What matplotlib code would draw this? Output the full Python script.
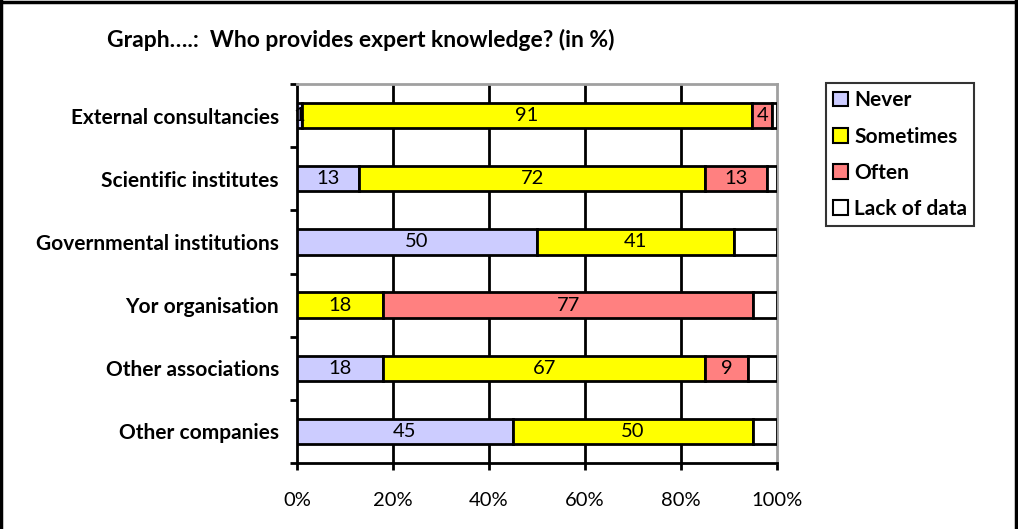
import numpy as np
import matplotlib
matplotlib.use("Agg")
import matplotlib.pyplot as plt
from matplotlib.patches import Patch
from matplotlib.lines import Line2D

plt.rcParams['font.family'] = ['Lato', 'DejaVu Sans']

categories = ["External consultancies", "Scientific institutes", "Governmental institutions",
              "Yor organisation", "Other associations", "Other companies"]
series = ["Never", "Sometimes", "Often", "Lack of data"]
never = [1, 13, 50, 0, 18, 45]
sometimes = [91, 72, 41, 18, 67, 50]
often = [4, 13, 0, 77, 9, 0]
lack = [1, 2, 9, 5, 6, 5]
colors = ["#CCCCFF", "#FFFF00", "#FF8080", "#FFFFFF"]
xticks = [0, 20, 40, 60, 80, 100]

raw = np.array([never, sometimes, often, lack], dtype=float)
# 100% stacked: normalise each row by its total
pct = raw / raw.sum(axis=0) * 100

fig = plt.figure(figsize=(10.18, 5.29), dpi=100)
ax = fig.add_axes([297 / 1018, 1 - 463 / 529, 480 / 1018, 379 / 529])

y = np.arange(len(categories))[::-1]
left = np.zeros(len(categories))
for i, name in enumerate(series):
    ax.barh(y, pct[i], left=left, height=0.4, color=colors[i],
            edgecolor="black", linewidth=2, label=name, zorder=3)
    if i < 3:
        for j in range(len(categories)):
            if raw[i, j] > 0:
                ax.text(left[j] + pct[i, j] / 2, y[j], "%d" % raw[i, j],
                        ha="center", va="center", fontsize=14.5, zorder=4)
    left += pct[i]

ax.set_xlim(0, 100)
ax.set_ylim(-0.5, len(categories) - 0.5)
ax.set_xticks(xticks)
ax.set_xticklabels(["%d%%" % t for t in xticks], fontsize=14.5)
ax.tick_params(axis="x", length=5, width=2, pad=16)
for t in xticks[1:-1]:
    ax.axvline(t, color="black", linewidth=2, zorder=1)

ax.set_yticks(y)
ax.set_yticklabels(categories, fontsize=15, fontweight="bold")
ax.set_yticks(np.arange(-0.5, len(categories)), minor=True)
ax.tick_params(axis="y", which="major", length=0, pad=13)
ax.tick_params(axis="y", which="minor", length=5, width=2)

for s in ["left", "bottom"]:
    ax.spines[s].set_linewidth(2)
    ax.spines[s].set_color("black")
for s in ["top", "right"]:
    ax.spines[s].set_linewidth(2)
    ax.spines[s].set_color("#A0A0A0")

handles = [Patch(facecolor=c, edgecolor="black", linewidth=1.5) for c in colors]
leg = fig.legend(handles, series, loc="upper left",
                 bbox_to_anchor=(826 / 1018, 1 - 83 / 529),
                 prop={"size": 15, "weight": "bold"}, fancybox=False,
                 handlelength=0.7, handleheight=0.7, handletextpad=0.3,
                 labelspacing=0.78, borderpad=0.35, borderaxespad=0)
leg.get_frame().set_edgecolor("black")
leg.get_frame().set_linewidth(1.5)

fig.text(107 / 1018, 1 - 40 / 529, "Graph\u2026.:  Who provides expert knowledge? (in %)",
         fontsize=16.5, fontweight="bold", va="center", ha="left")

# outer frame
fig.add_artist(Line2D([0.001, 0.001], [0, 0.999], color="black", linewidth=2.5))
fig.add_artist(Line2D([0.001, 0.998], [0.997, 0.997], color="black", linewidth=2.5))
fig.add_artist(Line2D([0.998, 0.998], [0, 0.999], color="black", linewidth=2.5))

fig.savefig("out.png", dpi=100)
